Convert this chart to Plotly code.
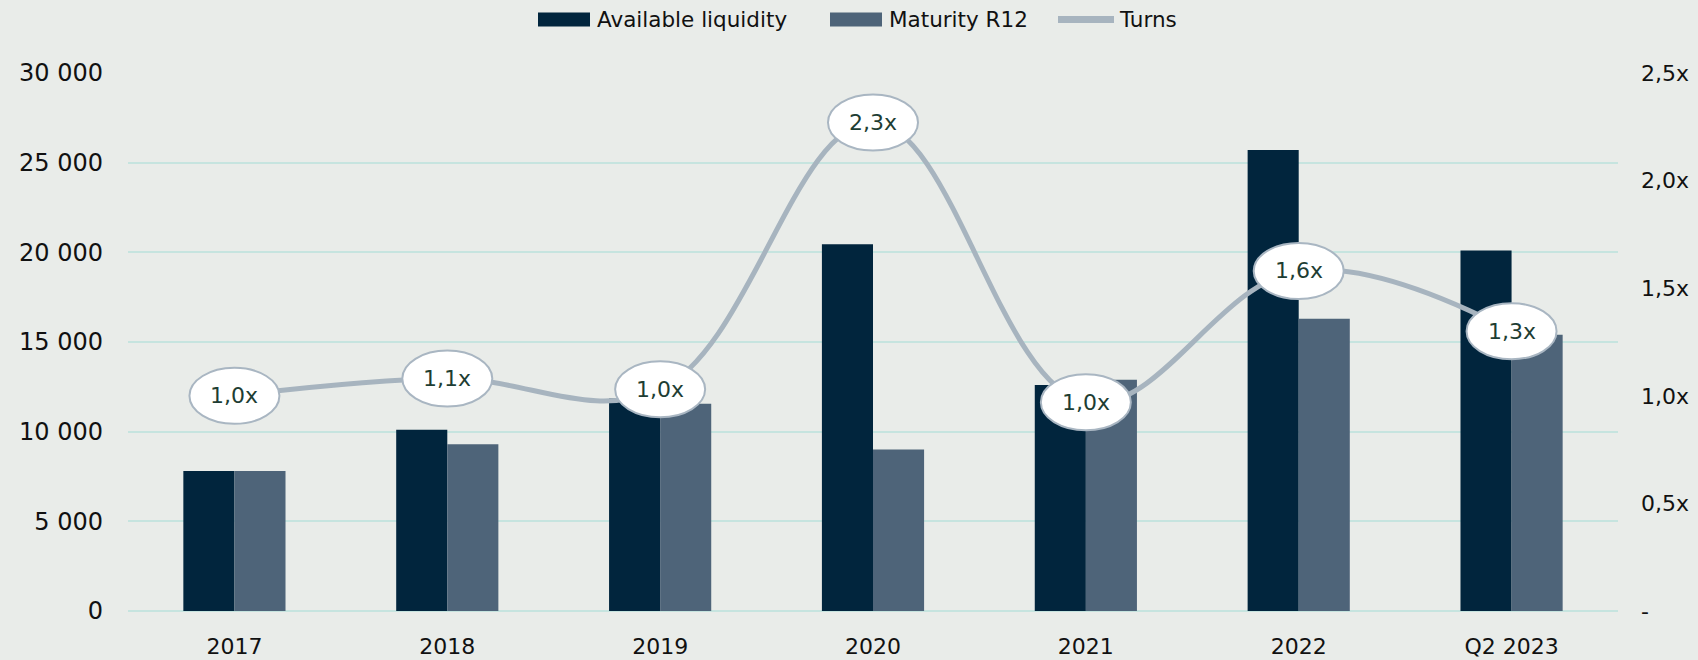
import plotly.graph_objects as go

categories = ["2017", "2018", "2019", "2020", "2021", "2022", "Q2 2023"]
available_liquidity = [7800, 10100, 11850, 20450, 12600, 25700, 20100]
maturity_r12 = [7800, 9300, 11550, 9000, 12900, 16300, 15400]
turns = [1.00, 1.08, 1.03, 2.27, 0.97, 1.58, 1.30]
turn_labels = ["1,0x", "1,1x", "1,0x", "2,3x", "1,0x", "1,6x", "1,3x"]

left_tickvals = [0, 5000, 10000, 15000, 20000, 25000, 30000]
left_ticktext = ["0", "5 000", "10 000", "15 000", "20 000", "25 000", "30 000"]
right_tickvals = [0, 0.5, 1.0, 1.5, 2.0, 2.5]
right_ticktext = ["-", "0,5x", "1,0x", "1,5x", "2,0x", "2,5x"]

C_AL = "#01253D"
C_MR = "#4E6479"
C_TURNS = "#A7B4BF"
BG = "#E9ECE9"
GRID = "#C6E4DF"
FONT = "DejaVu Sans"
TXT = "#111111"

W, H = 1698, 660
L, R, T, B = 128, 1618, 73, 611

def px2x(px):
    return (px - L) / (R - L)

def py2y(py):
    return (B - py) / (B - T)

fig = go.Figure()
fig.add_trace(go.Bar(x=categories, y=available_liquidity, name="Available liquidity",
                     marker=dict(color=C_AL, line=dict(width=0)), showlegend=False))
fig.add_trace(go.Bar(x=categories, y=maturity_r12, name="Maturity R12",
                     marker=dict(color=C_MR, line=dict(width=0)), showlegend=False))
fig.add_trace(go.Scatter(x=categories, y=turns, name="Turns", yaxis="y2", mode="lines",
                         line=dict(color=C_TURNS, width=5, shape="spline", smoothing=1.1),
                         showlegend=False))

shapes = []
annotations = []
for i, (v, lab) in enumerate(zip(turns, turn_labels)):
    shapes.append(dict(type="circle", xref="x", yref="y2", xsizemode="pixel", ysizemode="pixel",
                       xanchor=i, yanchor=v, x0=-45, x1=45, y0=-28, y1=28,
                       fillcolor="white", line=dict(color="#A9B6C2", width=2), layer="above"))
    annotations.append(dict(x=i, y=v, xref="x", yref="y2", text=lab, showarrow=False,
                            font=dict(family=FONT, size=22, color="#1E3D33"),
                            xanchor="center", yanchor="middle"))

# manual legend
legend_items = [
    ("rect", C_AL, 538, 590, "Available liquidity", 596),
    ("rect", C_MR, 830, 882, "Maturity R12", 888),
    ("line", C_TURNS, 1058, 1114, "Turns", 1118),
]
for kind, col, x0, x1, label, tx in legend_items:
    if kind == "rect":
        shapes.append(dict(type="rect", xref="paper", yref="paper",
                           x0=px2x(x0), x1=px2x(x1), y0=py2y(26.5), y1=py2y(12.5),
                           fillcolor=col, line=dict(width=0)))
    else:
        shapes.append(dict(type="line", xref="paper", yref="paper",
                           x0=px2x(x0), x1=px2x(x1), y0=py2y(19.5), y1=py2y(19.5),
                           line=dict(color=col, width=7)))
    annotations.append(dict(x=px2x(tx), y=py2y(20), xref="paper", yref="paper", text=label,
                            showarrow=False, xanchor="left", yanchor="middle",
                            font=dict(family=FONT, size=21.5, color=TXT), borderpad=0))

fig.update_layout(
    width=W, height=H,
    margin=dict(l=L, r=W - R, t=T, b=H - B, autoexpand=False),
    paper_bgcolor=BG, plot_bgcolor=BG,
    barmode="group", bargap=0.52, bargroupgap=0,
    font=dict(family=FONT, size=22, color=TXT),
    showlegend=False,
    xaxis=dict(type="category", showgrid=False, showline=False, zeroline=False,
               ticks="", tickfont=dict(family=FONT, size=22, color=TXT),
               ticklabelstandoff=20, automargin=False),
    yaxis=dict(range=[0, 30000], tickvals=left_tickvals, ticktext=left_ticktext,
               showgrid=True, gridcolor=GRID, gridwidth=1.5, zeroline=True,
               zerolinecolor=GRID, zerolinewidth=1.5, showline=False, ticks="",
               tickfont=dict(family=FONT, size=24, color=TXT), ticklabelstandoff=24,
               automargin=False),
    yaxis2=dict(range=[0, 2.5], overlaying="y", side="right", tickvals=right_tickvals,
                ticktext=right_ticktext, showgrid=False, zeroline=False, showline=False,
                ticks="", tickfont=dict(family=FONT, size=22, color=TXT),
                ticklabelstandoff=22, automargin=False),
    shapes=shapes,
    annotations=annotations,
)

fig.write_html("out.html", config={"displayModeBar": False},
               post_script="document.body.style.margin='0';document.body.style.background='%s';" % BG)
